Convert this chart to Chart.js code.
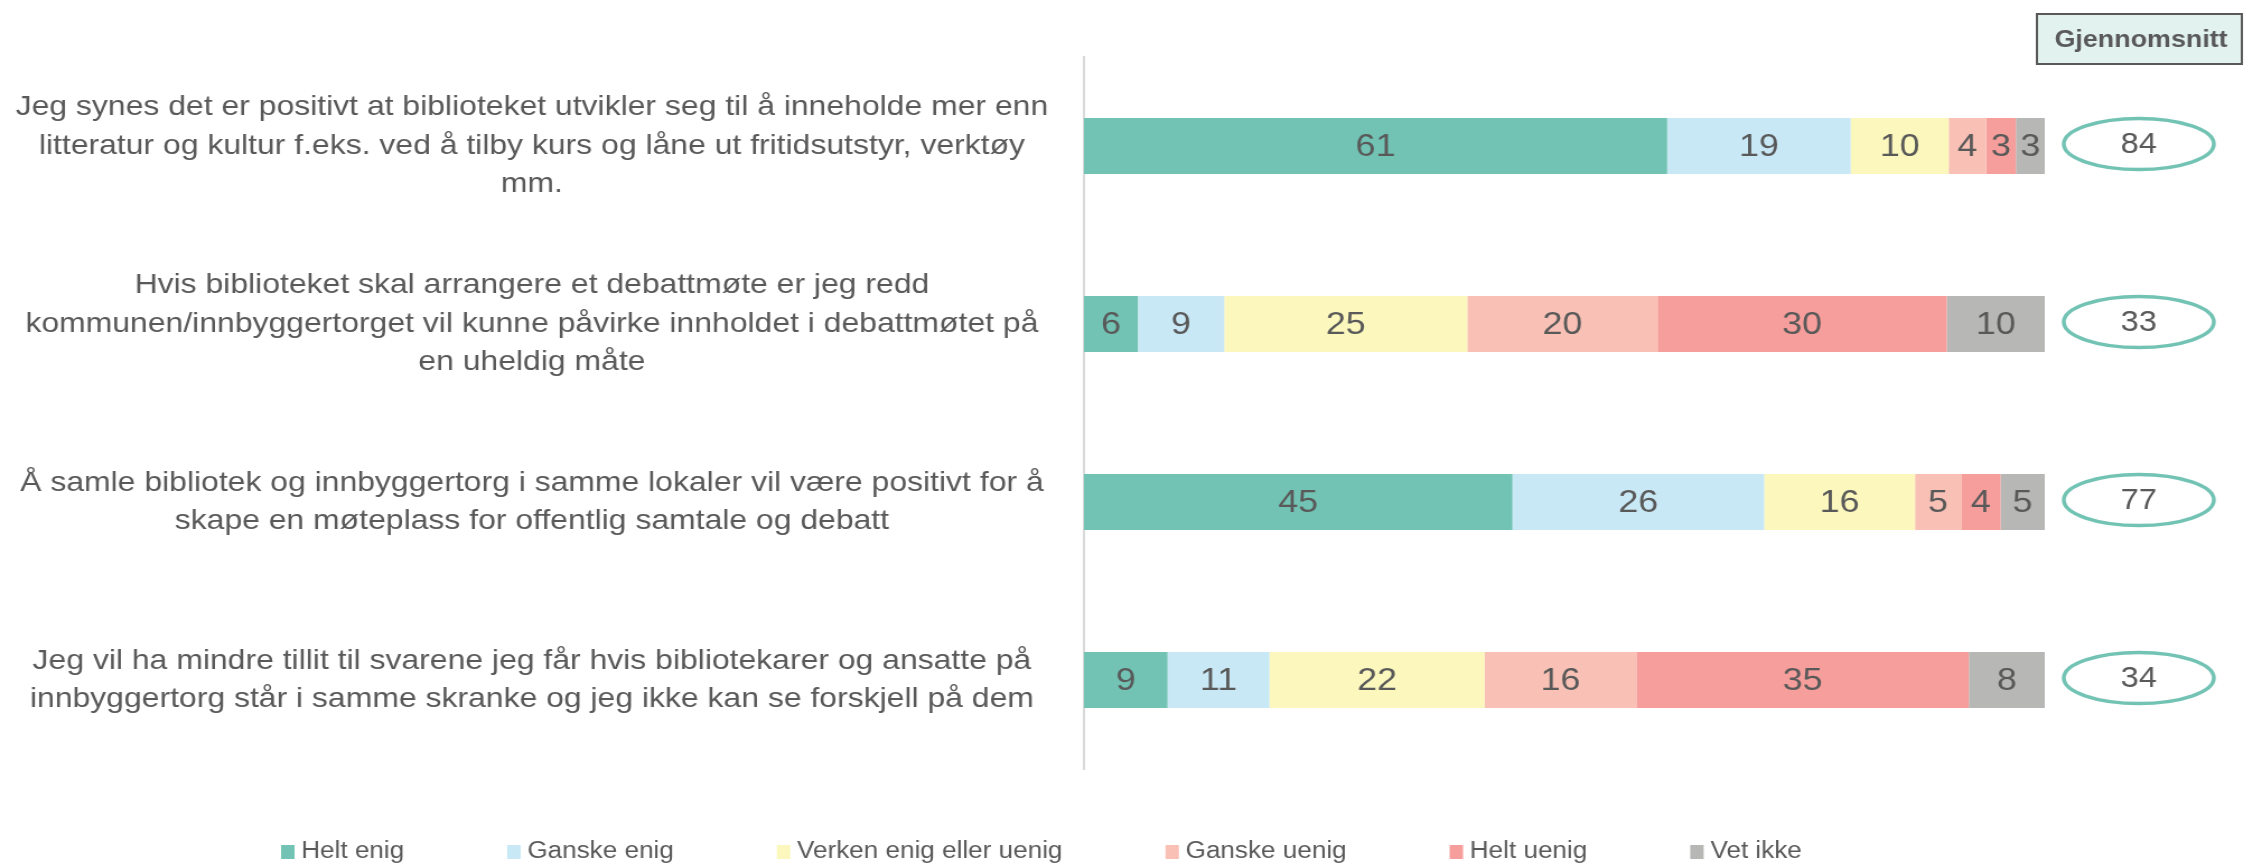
<!DOCTYPE html>
<html>
<head>
<meta charset="utf-8">
<script src="https://cdn.jsdelivr.net/npm/chart.js@4/dist/chart.umd.min.js"></script>
<style>
  html, body { margin: 0; padding: 0; background: #fff; overflow: hidden; }
  /* reference text is slightly wide, so draw narrower and stretch */
  #wrap { width: 2004px; height: 864px; transform: scaleX(1.1198); transform-origin: 0 0; }
</style>
</head>
<body>
<div id="wrap"><canvas id="likertChart"></canvas></div>
<script>
const questions = [
  ['Jeg synes det er positivt at biblioteket utvikler seg til å inneholde mer enn',
   'litteratur og kultur f.eks. ved å tilby kurs og låne ut fritidsutstyr, verktøy',
   'mm.'],
  ['Hvis biblioteket skal arrangere et debattmøte er jeg redd',
   'kommunen/innbyggertorget vil kunne påvirke innholdet i debattmøtet på',
   'en uheldig måte'],
  ['Å samle bibliotek og innbyggertorg i samme lokaler vil være positivt for å',
   'skape en møteplass for offentlig samtale og debatt'],
  ['Jeg vil ha mindre tillit til svarene jeg får hvis bibliotekarer og ansatte på',
   'innbyggertorg står i samme skranke og jeg ikke kan se forskjell på dem']
];

const heltEnig    = [60.7, 5.6, 44.6, 8.7];
const ganskeEnig  = [19.1, 9.0, 26.2, 10.6];
const verken      = [10.2, 25.3, 15.7, 22.4];
const ganskeUenig = [3.9, 19.8, 4.8, 15.8];
const heltUenig   = [3.1, 30.1, 4.1, 34.6];
const vetIkke     = [3.0, 10.2, 4.6, 7.9];
const gjennomsnitt = [84, 33, 77, 34];

const FONT = '"Liberation Sans", Arial, sans-serif';
const GREY = '#595959';

const series = [
  { label: 'Helt enig', data: heltEnig, color: '#72c3b4' },
  { label: 'Ganske enig', data: ganskeEnig, color: '#c9e8f5' },
  { label: 'Verken enig eller uenig', data: verken, color: '#fbf7bd' },
  { label: 'Ganske uenig', data: ganskeUenig, color: '#f9c1b5' },
  { label: 'Helt uenig', data: heltUenig, color: '#f59e9b' },
  { label: 'Vet ikke', data: vetIkke, color: '#b7b8b5' }
];

// numbers inside the bars, average ellipses, header box and legend
const extras = {
  id: 'extras',
  afterDatasetsDraw(chart) {
    const ctx = chart.ctx;
    ctx.save();
    ctx.fillStyle = GREY;
    ctx.textAlign = 'center';
    ctx.textBaseline = 'middle';
    ctx.font = '32px ' + FONT;
    chart.data.datasets.forEach((ds, i) => {
      chart.getDatasetMeta(i).data.forEach((bar, j) => {
        ctx.fillText(Math.round(ds.data[j]), (bar.x + bar.base) / 2, bar.y + 1);
      });
    });
    ctx.restore();
  },
  afterDraw(chart) {
    const ctx = chart.ctx;
    const xs = chart.scales.x, ys = chart.scales.y;
    const cx = xs.getPixelForValue(100) + 84;
    ctx.save();

    // averages
    gjennomsnitt.forEach((v, i) => {
      const cy = ys.getPixelForValue(i) - 2;
      ctx.beginPath();
      ctx.ellipse(cx, cy, 67, 25.5, 0, 0, Math.PI * 2);
      ctx.fillStyle = '#fff';
      ctx.fill();
      ctx.lineWidth = 3.5;
      ctx.strokeStyle = '#72c3b4';
      ctx.stroke();
      ctx.fillStyle = GREY;
      ctx.font = '29px ' + FONT;
      ctx.textAlign = 'center';
      ctx.textBaseline = 'middle';
      ctx.fillText(v, cx, cy + 1);
    });

    // header box
    ctx.fillStyle = '#e2f2ef';
    ctx.fillRect(1819, 14, 183, 50);
    ctx.lineWidth = 2;
    ctx.strokeStyle = GREY;
    ctx.strokeRect(1819, 14, 183, 50);
    ctx.fillStyle = GREY;
    ctx.font = 'bold 24px ' + FONT;
    ctx.fillText('Gjennomsnitt', 1912, 40);

    // legend
    ctx.font = '23.3px ' + FONT;
    ctx.textAlign = 'left';
    const gap = 92, box = 12, boxGap = 6;
    const widths = series.map(s => box + boxGap + ctx.measureText(s.label).width);
    const total = widths.reduce((a, b) => a + b, 0) + gap * (series.length - 1);
    let x = 930 - total / 2;
    series.forEach((s, i) => {
      ctx.fillStyle = s.color;
      ctx.fillRect(x, 845, box, 14);
      ctx.fillStyle = GREY;
      ctx.fillText(s.label, x + box + boxGap, 852);
      x += widths[i] + gap;
    });
    ctx.restore();
  }
};

const ctx = document.getElementById('likertChart').getContext('2d');
const likertChart = new Chart(ctx, {
  type: 'bar',
  data: {
    labels: questions,
    datasets: series.map(s => ({
      label: s.label,
      data: s.data,
      backgroundColor: s.color,
      borderWidth: 0,
      barPercentage: 0.315,
      categoryPercentage: 1
    }))
  },
  options: {
    indexAxis: 'y',
    responsive: true,
    maintainAspectRatio: false,
    animation: false,
    layout: { padding: { top: 57, bottom: 95, right: 178, left: 0 } },
    scales: {
      x: {
        stacked: true,
        min: 0,
        max: 100,
        display: false
      },
      y: {
        stacked: true,
        grid: { display: false, drawTicks: false },
        border: { display: true, color: '#d9d9d9', width: 2 },
        ticks: {
          crossAlign: 'center',
          padding: 32,
          color: GREY,
          font: { family: FONT, size: 28.5, lineHeight: 1.354 }
        },
        afterFit(scale) {
          scale.width = 968;
          scale.paddingTop = 0;
          scale.paddingBottom = 0;
        }
      }
    },
    plugins: {
      legend: { display: false },
      tooltip: { enabled: false }
    }
  },
  plugins: [extras]
});
</script>
</body>
</html>
